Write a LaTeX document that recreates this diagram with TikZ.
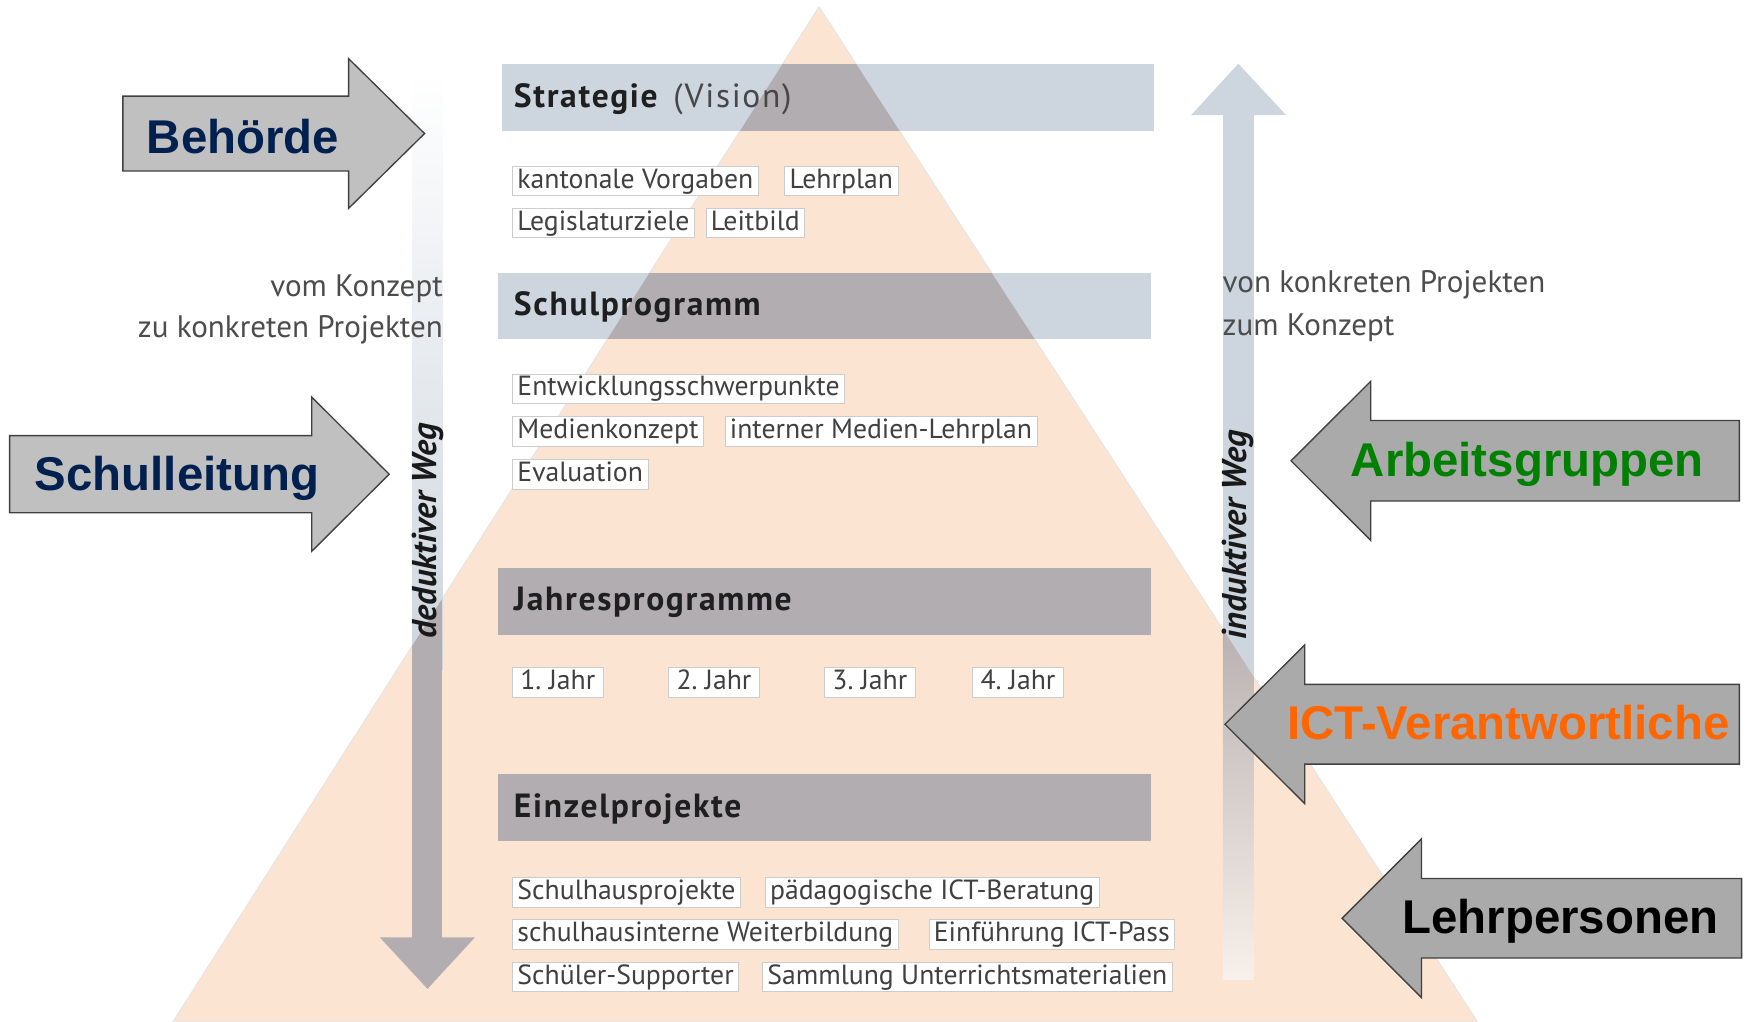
\documentclass[tikz,border=0pt]{standalone}
\usepackage{fontspec}
\setmainfont{PT Sans}
\newfontfamily\headfont{PT Sans}[LetterSpace=5]
\newfontfamily\arialfont{Liberation Sans}
\definecolor{peach}{HTML}{FCE4D2}
\definecolor{bandblue}{HTML}{CDD5DE}
\definecolor{bandgray}{HTML}{B1ADB0}
\definecolor{fadetop}{HTML}{B8B1B1}
\definecolor{fadebot}{HTML}{F8F0EA}
\definecolor{lightarrow}{HTML}{C0C0C0}
\definecolor{darkarrow}{HTML}{AAAAAA}
\definecolor{navyblue}{HTML}{002050}
\definecolor{dgreen}{HTML}{008000}
\definecolor{ictorange}{HTML}{FF6600}

\begin{document}
\begin{tikzpicture}[x=0.5pt,y=-0.5pt,
    item/.style={draw=black!20,line width=0.3pt,fill=white,anchor=west,inner xsep=2.2pt,inner ysep=0.6pt,
        text height=9.2pt,text depth=2.8pt,text=black!75,font=\fontsize{12.4}{14}\selectfont},
    head/.style={anchor=base west,inner sep=0pt,text=black!88,font=\headfont\fontsize{15}{17}\selectfont\bfseries},
    who/.style={anchor=base,inner sep=0pt,font=\arialfont\fontsize{21.2}{24}\selectfont\bfseries},
    way/.style={rotate=90,inner sep=0pt,text=black!90,font=\fontsize{15.4}{17}\selectfont\bfseries\itshape},
    side/.style={inner sep=0pt,text=black!70,font=\fontsize{13.9}{16}\selectfont}]
\useasboundingbox (0,0) rectangle (1568,914);
\def\pyr{(733,6) -- (1322,914) -- (155,914) -- cycle}
\fill[peach] \pyr;
\draw[black!10,line width=0.4pt] \pyr;
\foreach \xa/\xb/\ya/\yb in {449/1033/57/117.6, 446/1030/244/303, 446/1030/508/568, 446/1030/693/753}
    \fill[bandblue] (\xa,\ya) rectangle (\xb,\yb);
\shade[top color=white,bottom color=bandblue] (369,65) rectangle (396,600);
\fill[bandblue] (1066,103) -- (1151,103) -- (1108.3,57) -- cycle;
\fill[bandblue] (1094.5,102) rectangle (1122,640);
\begin{scope}
    \clip \pyr;
    \foreach \xa/\xb/\ya/\yb in {449/1033/57/117.6, 446/1030/244/303, 446/1030/508/568, 446/1030/693/753}
        \fill[bandgray] (\xa,\ya) rectangle (\xb,\yb);
    \fill[bandgray] (369,480) rectangle (396,840);
    \shade[top color=fadetop,bottom color=fadebot] (1094.5,560) rectangle (1122,877);
\end{scope}
\fill[bandgray] (340,839) -- (425,839) -- (382.6,885) -- cycle;
\node[head] (strat) at (459.6,96) {Strategie\hspace{7pt}{\mdseries\color{black!72}(Vision)}};
\node[head] (schulprog) at (459.6,282.5) {Schulprogramm};
\node[head] (jahresprog) at (459.6,546) {Jahresprogramme};
\node[head] (einzelproj) at (459.6,731.5) {Einzelprojekte};
\foreach \nm/\x/\y/\t in {kv/458.4/162/kantonale Vorgaben, lp/702/162/Lehrplan,
        lz/458.4/199.5/Legislaturziele, lb/631.4/199.5/Leitbild,
        ews/458.4/348/Entwicklungsschwerpunkte,
        mk/458.4/386.2/Medienkonzept, iml/648.5/386.2/interner Medien-Lehrplan,
        ev/458.4/424.4/Evaluation,
        shp/458.4/798.5/Schulhausprojekte, pib/684.5/798.5/pädagogische ICT-Beratung,
        siw/458.4/836.3/schulhausinterne Weiterbildung, eip/831.1/836.3/Einführung ICT-Pass,
        ss/458.4/874.4/Schüler-Supporter, su/682/874.4/Sammlung Unterrichtsmaterialien}
    \node[item] (\nm) at (\x,\y) {\t};
\foreach \i/\x in {1/458.4, 2/598.2, 3/737.7, 4/870.3}
    \node[item,inner xsep=3.5pt] (jahr\i) at (\x,610.5) {\i.~Jahr};
\node[way] (dedweg) at (382.6,475) {deduktiver Weg};
\node[way] (indweg) at (1108.3,478.5) {induktiver Weg};
\node[side,anchor=base east] (vomk) at (396.7,265.3) {vom Konzept};
\node[side,anchor=base east] (zuk) at (396.7,302) {zu konkreten Projekten};
\node[side,anchor=base west] (vonk) at (1093.9,262) {von konkreten Projekten};
\node[side,anchor=base west] (zumk) at (1093.9,300.4) {zum Konzept};
\foreach \xa/\xb/\xt/\yc/\bh/\hh/\c in {110/312/380/119.5/33.5/67/lightarrow,
        8.6/279/348.3/424.4/34.5/69/lightarrow,
        1556.7/1226.8/1155.4/412.4/36/71.2/darkarrow,
        1556.7/1167.7/1096.3/648.2/35.7/71/darkarrow,
        1558.7/1272.2/1201.1/821.8/35.6/71/darkarrow}
    \draw[fill=\c,draw=black!75,line width=0.6pt] (\xa,\yc-\bh) -- (\xb,\yc-\bh) -- (\xb,\yc-\hh) -- (\xt,\yc)
        -- (\xb,\yc+\hh) -- (\xb,\yc+\bh) -- (\xa,\yc+\bh) -- cycle;
\node[who,text=navyblue] (behoerde) at (217.5,137) {Behörde};
\node[who,text=navyblue] (schulleitung) at (158.4,439.4) {Schulleitung};
\node[who,text=dgreen] (arbeitsgr) at (1366.8,426.6) {Arbeitsgruppen};
\node[who,text=ictorange] (ictverantw) at (1350,661.7) {ICT-Verantwortliche};
\node[who] (lehrpers) at (1396.5,835.7) {Lehrpersonen};
\end{tikzpicture}
\end{document}
